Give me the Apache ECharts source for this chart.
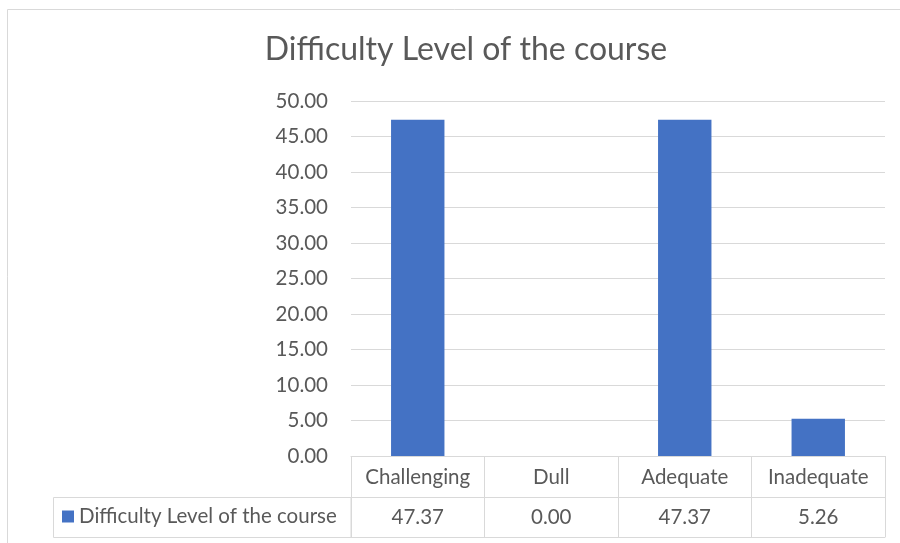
<!DOCTYPE html>
<html lang="en">
<head>
    <meta charset="utf-8">
    <title>Difficulty Level of the course</title>
    <script src="https://cdn.jsdelivr.net/npm/echarts@6/dist/echarts.min.js"></script>
    <style>
        html, body { margin: 0; padding: 0; background: #fff; }
        #container { width: 900px; height: 543px; }
    </style>
</head>
<body>
<div id="container"></div>
<script>
    const seriesName = "Difficulty Level of the course";
    const categories = ["Challenging", "Dull", "Adequate", "Inadequate"];
    const values = [47.37, 0.00, 47.37, 5.26];

    const font = "Lato, 'Open Sans', sans-serif";
    const textColor = "#595959";
    const lineColor = "#d9d9d9";
    const fontSize = 20.5;

    const option = {
        animation: false,
        title: {
            text: seriesName,
            left: 461,
            textAlign: "center",
            top: 29,
            textStyle: { fontFamily: font, fontSize: 32, fontWeight: "normal", color: textColor }
        },
        legend: {
            data: [seriesName],
            left: 62,
            top: 506,
            padding: 0,
            icon: "rect",
            itemWidth: 12,
            itemHeight: 12,
            textStyle: { fontFamily: font, fontSize: fontSize, color: textColor }
        },
        grid: { left: 351, right: 15, top: 101, bottom: 87 },
        xAxis: [
            {
                type: "category",
                data: categories,
                position: "bottom",
                axisLine: { show: true, lineStyle: { color: lineColor } },
                axisTick: { show: true, length: 81, interval: 0, lineStyle: { color: lineColor } },
                axisLabel: { margin: 11, interval: 0, fontFamily: font, fontSize: fontSize, color: textColor }
            },
            {
                type: "category",
                data: categories,
                position: "bottom",
                offset: 41,
                axisLine: { show: true, lineStyle: { color: lineColor } },
                axisTick: { show: false },
                axisLabel: {
                    margin: 10, interval: 0, fontFamily: font, fontSize: fontSize, color: textColor,
                    formatter: (v, i) => values[i].toFixed(2)
                }
            },
            {
                type: "category",
                data: categories,
                position: "bottom",
                offset: 81,
                axisLine: { show: true, lineStyle: { color: lineColor } },
                axisTick: { show: false },
                axisLabel: { show: false }
            }
        ],
        yAxis: {
            type: "value",
            min: 0,
            max: 50,
            interval: 5,
            axisLine: { show: false },
            axisTick: { show: false },
            splitLine: { lineStyle: { color: lineColor } },
            axisLabel: {
                margin: 23, fontFamily: font, fontSize: fontSize, color: textColor,
                formatter: v => v.toFixed(2)
            }
        },
        series: [{
            name: seriesName,
            type: "bar",
            data: values,
            barWidth: "40%",
            itemStyle: { color: "#4472c4" }
        }],
        graphic: [
            {
                type: "rect",
                shape: { x: 7.5, y: 9.5, width: 960, height: 600 },
                style: { fill: "none", stroke: lineColor, lineWidth: 1 },
                silent: true
            },
            {
                type: "rect",
                shape: { x: 53.5, y: 497.5, width: 297.5, height: 40 },
                style: { fill: "none", stroke: lineColor, lineWidth: 1 },
                silent: true
            }
        ]
    };

    let chart = echarts.init(document.getElementById("container"));
    chart.setOption(option);
</script>
</body>
</html>
